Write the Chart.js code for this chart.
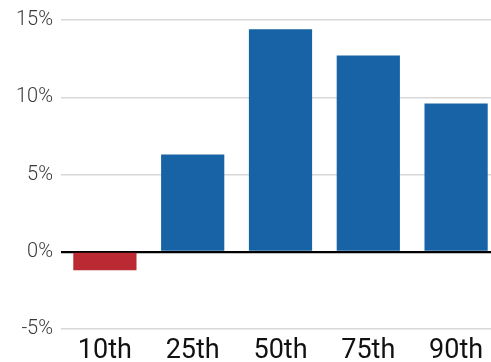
<!DOCTYPE html>
<html>
<head>
<meta charset="utf-8">
<script src="https://cdn.jsdelivr.net/npm/chart.js@4/dist/chart.umd.min.js"></script>
<style>
  html, body { margin: 0; padding: 0; background: #fff; overflow: hidden; }
  #wrap { width: 491px; height: 362px; overflow: hidden; position: relative; }
  #box { width: 500px; height: 362px; position: absolute; left: 0; top: 0; }
</style>
</head>
<body>
<div id="wrap"><div id="box"><canvas id="c"></canvas></div></div>
<script>
// Percentile groups and their returns (%)
const categories = ['10th', '25th', '50th', '75th', '90th'];
const returns = [-1.2, 6.3, 14.4, 12.7, 9.6];
const yTicks = [-5, 0, 5, 10, 15];

const BLUE = '#1763a6';
const RED = '#bb2a32';

new Chart(document.getElementById('c'), {
  type: 'bar',
  data: {
    labels: categories,
    datasets: [{
      data: returns,
      backgroundColor: returns.map(v => v < 0 ? RED : BLUE),
      borderWidth: 0,
      categoryPercentage: 1,
      barPercentage: 0.72
    }]
  },
  options: {
    responsive: true,
    maintainAspectRatio: false,
    animation: false,
    layout: { padding: { top: 20, right: 0, left: 0, bottom: 0 } },
    plugins: { legend: { display: false }, tooltip: { enabled: false } },
    scales: {
      x: {
        grid: { display: false, drawTicks: false },
        border: { display: false },
        ticks: {
          color: '#111',
          font: { family: 'Roboto', size: 27 },
          padding: 6
        },
        afterFit: s => { s.height = 33; }
      },
      y: {
        min: -5,
        max: 15,
        afterBuildTicks: s => { s.ticks = yTicks.map(v => ({ value: v })); },
        grid: {
          drawTicks: false,
          color: ctx => ctx.tick && ctx.tick.value === 0 ? '#000' : '#d8d8d8',
          lineWidth: ctx => ctx.tick && ctx.tick.value === 0 ? 2.2 : 1.5
        },
        border: { display: false },
        ticks: {
          color: '#3a3a3a',
          font: { family: 'Roboto', size: 20, weight: 300 },
          padding: 8,
          callback: v => v + '%'
        },
        afterFit: s => { s.width = 61; }
      }
    }
  }
});
</script>
</body>
</html>
